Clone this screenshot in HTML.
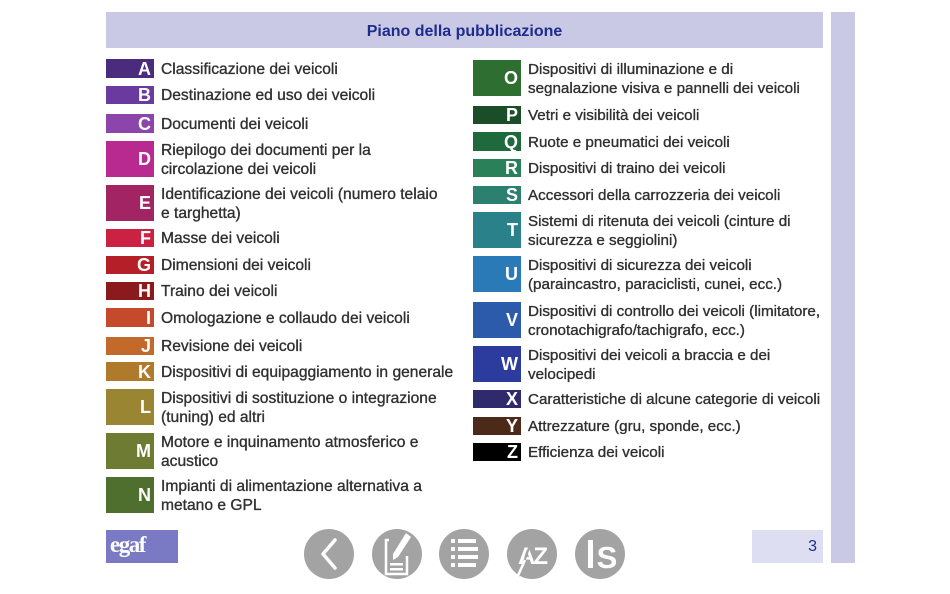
<!DOCTYPE html>
<html>
<head>
<meta charset="utf-8">
<style>
  html,body{margin:0;padding:0;background:#fff;}
  body{width:950px;height:594px;position:relative;overflow:hidden;font-family:"Liberation Sans",Arial,sans-serif;}
  .hdr{position:absolute;left:106px;top:12px;width:717px;height:36px;background:#c9c9e6;}
  .hdr span{position:absolute;left:0;right:0;top:1px;line-height:37px;text-align:center;color:#1e2d8c;font-size:16px;font-weight:bold;}
  .vbar{position:absolute;left:831px;top:12px;width:24px;height:551px;background:#c9c9e6;}
  .pg{position:absolute;left:752px;top:530px;width:71px;height:33px;background:#dedef2;color:#1e2d8c;font-size:16px;}
  .pg span{position:absolute;right:6px;top:8px;}
  .logo{position:absolute;left:106px;top:530px;width:72px;height:33px;background:#7a7ac4;}
  .logo span{position:absolute;left:4px;top:2px;color:#fff;font-family:"Liberation Serif",serif;font-weight:bold;font-size:23px;letter-spacing:-1.5px;line-height:26px;}
  .it{position:absolute;display:flex;align-items:stretch;}
  .bx{width:48px;color:#fff;font-weight:bold;font-size:18px;text-align:right;box-sizing:border-box;padding-right:3px;padding-top:1px;display:flex;align-items:center;justify-content:flex-end;}
  .tx{margin-left:7px;padding-top:3px;display:flex;align-items:center;color:#303030;font-size:15.6px;line-height:18.5px;white-space:nowrap;-webkit-text-stroke:0.35px #303030;}
  .r .tx{font-size:15.2px;}
</style>
</head>
<body>
<div class="hdr"><span>Piano della pubblicazione</span></div>
<div class="vbar"></div>

<!-- Left column -->
<div class="it" style="left:106px;top:59px;height:19px;"><div class="bx" style="background:#4a2b7e">A</div><div class="tx">Classificazione dei veicoli</div></div>
<div class="it" style="left:106px;top:86px;height:18px;"><div class="bx" style="background:#6b3aa0">B</div><div class="tx">Destinazione ed uso dei veicoli</div></div>
<div class="it" style="left:106px;top:114px;height:19px;"><div class="bx" style="background:#8c45aa">C</div><div class="tx">Documenti dei veicoli</div></div>
<div class="it" style="left:106px;top:141px;height:36px;"><div class="bx" style="background:#b82a90">D</div><div class="tx">Riepilogo dei documenti per la<br>circolazione dei veicoli</div></div>
<div class="it" style="left:106px;top:185px;height:36px;"><div class="bx" style="background:#a22463">E</div><div class="tx">Identificazione dei veicoli (numero telaio<br>e targhetta)</div></div>
<div class="it" style="left:106px;top:229px;height:18px;"><div class="bx" style="background:#cb2142">F</div><div class="tx">Masse dei veicoli</div></div>
<div class="it" style="left:106px;top:256px;height:18px;"><div class="bx" style="background:#b51f27">G</div><div class="tx">Dimensioni dei veicoli</div></div>
<div class="it" style="left:106px;top:282px;height:18px;"><div class="bx" style="background:#8b1a1c">H</div><div class="tx">Traino dei veicoli</div></div>
<div class="it" style="left:106px;top:308px;height:19px;"><div class="bx" style="background:#c5492b">I</div><div class="tx">Omologazione e collaudo dei veicoli</div></div>
<div class="it" style="left:106px;top:337px;height:18px;"><div class="bx" style="background:#c2692b">J</div><div class="tx">Revisione dei veicoli</div></div>
<div class="it" style="left:106px;top:362px;height:19px;"><div class="bx" style="background:#b07a2c">K</div><div class="tx">Dispositivi di equipaggiamento in generale</div></div>
<div class="it" style="left:106px;top:389px;height:36px;"><div class="bx" style="background:#9a8632">L</div><div class="tx">Dispositivi di sostituzione o integrazione<br>(tuning) ed altri</div></div>
<div class="it" style="left:106px;top:433px;height:36px;"><div class="bx" style="background:#6e7b33">M</div><div class="tx">Motore e inquinamento atmosferico e<br>acustico</div></div>
<div class="it" style="left:106px;top:477px;height:36px;"><div class="bx" style="background:#4f6f2f">N</div><div class="tx">Impianti di alimentazione alternativa a<br>metano e GPL</div></div>

<!-- Right column -->
<div class="r">
<div class="it" style="left:473px;top:60px;height:36px;"><div class="bx" style="background:#2f6e31">O</div><div class="tx">Dispositivi di illuminazione e di<br>segnalazione visiva e pannelli dei veicoli</div></div>
<div class="it" style="left:473px;top:106px;height:18px;"><div class="bx" style="background:#1b4d28">P</div><div class="tx">Vetri e visibilità dei veicoli</div></div>
<div class="it" style="left:473px;top:132px;height:19px;"><div class="bx" style="background:#1e6a3c">Q</div><div class="tx">Ruote e pneumatici dei veicoli</div></div>
<div class="it" style="left:473px;top:159px;height:18px;"><div class="bx" style="background:#2a8059">R</div><div class="tx">Dispositivi di traino dei veicoli</div></div>
<div class="it" style="left:473px;top:186px;height:18px;"><div class="bx" style="background:#2b806f">S</div><div class="tx">Accessori della carrozzeria dei veicoli</div></div>
<div class="it" style="left:473px;top:212px;height:36px;"><div class="bx" style="background:#2a8189">T</div><div class="tx">Sistemi di ritenuta dei veicoli (cinture di<br>sicurezza e seggiolini)</div></div>
<div class="it" style="left:473px;top:256px;height:36px;"><div class="bx" style="background:#2a7ab8">U</div><div class="tx">Dispositivi di sicurezza dei veicoli<br>(paraincastro, paraciclisti, cunei, ecc.)</div></div>
<div class="it" style="left:473px;top:302px;height:36px;"><div class="bx" style="background:#2c5bab">V</div><div class="tx">Dispositivi di controllo dei veicoli (limitatore,<br>cronotachigrafo/tachigrafo, ecc.)</div></div>
<div class="it" style="left:473px;top:346px;height:36px;"><div class="bx" style="background:#2b3c9e">W</div><div class="tx">Dispositivi dei veicoli a braccia e dei<br>velocipedi</div></div>
<div class="it" style="left:473px;top:390px;height:18px;"><div class="bx" style="background:#2f2a6c">X</div><div class="tx">Caratteristiche di alcune categorie di veicoli</div></div>
<div class="it" style="left:473px;top:417px;height:18px;"><div class="bx" style="background:#4c2a1a">Y</div><div class="tx">Attrezzature (gru, sponde, ecc.)</div></div>
<div class="it" style="left:473px;top:443px;height:18px;"><div class="bx" style="background:#000">Z</div><div class="tx">Efficienza dei veicoli</div></div>
</div>

<!-- Footer -->
<div class="logo"><span>egaf</span></div>
<div class="pg"><span>3</span></div>

<svg style="position:absolute;left:0;top:0" width="950" height="594" xmlns="http://www.w3.org/2000/svg">
  <g fill="#a3a3a3">
    <circle cx="329" cy="554" r="25"/>
    <circle cx="397" cy="554" r="25"/>
    <circle cx="464" cy="554" r="25"/>
    <circle cx="532" cy="554" r="25"/>
    <circle cx="600" cy="554" r="25"/>
  </g>
  <polyline points="335,540 323,554 335,568" fill="none" stroke="#fff" stroke-width="3.5" stroke-linecap="round" stroke-linejoin="round"/>
  <g fill="none" stroke="#fff" stroke-width="2.5">
    <path d="M389,540 L386,540 L386,574 L407,574 L407,556"/>
  </g>
  <rect x="390" y="563" width="13" height="2.5" fill="#fff"/>
  <rect x="390" y="568" width="13" height="2.5" fill="#fff"/>
  <path d="M406,533 L411,537 L398,557 L393,560 L393,554 Z" fill="#fff"/>
  <g fill="#fff">
    <rect x="451" y="539" width="4" height="4"/><rect x="458" y="539" width="18" height="4"/>
    <rect x="451" y="547" width="4" height="4"/><rect x="458" y="547" width="20" height="4"/>
    <rect x="451" y="555" width="4" height="4"/><rect x="458" y="555" width="20" height="4"/>
    <rect x="451" y="563" width="4" height="4"/><rect x="458" y="563" width="18" height="4"/>
  </g>
  <text x="532" y="564" text-anchor="middle" font-family="Liberation Sans, sans-serif" font-weight="bold" font-size="24" fill="#fff" letter-spacing="-2">AZ</text>
  <line x1="530" y1="545" x2="519" y2="576" stroke="#a3a3a3" stroke-width="2"/>
  <line x1="525" y1="560" x2="517" y2="578" stroke="#fff" stroke-width="2.5"/>
  <rect x="588" y="540" width="5" height="28" fill="#fff"/>
  <text x="607" y="568" text-anchor="middle" font-family="Liberation Sans, sans-serif" font-weight="bold" font-size="31" fill="#fff">S</text>
</svg>
</body>
</html>
